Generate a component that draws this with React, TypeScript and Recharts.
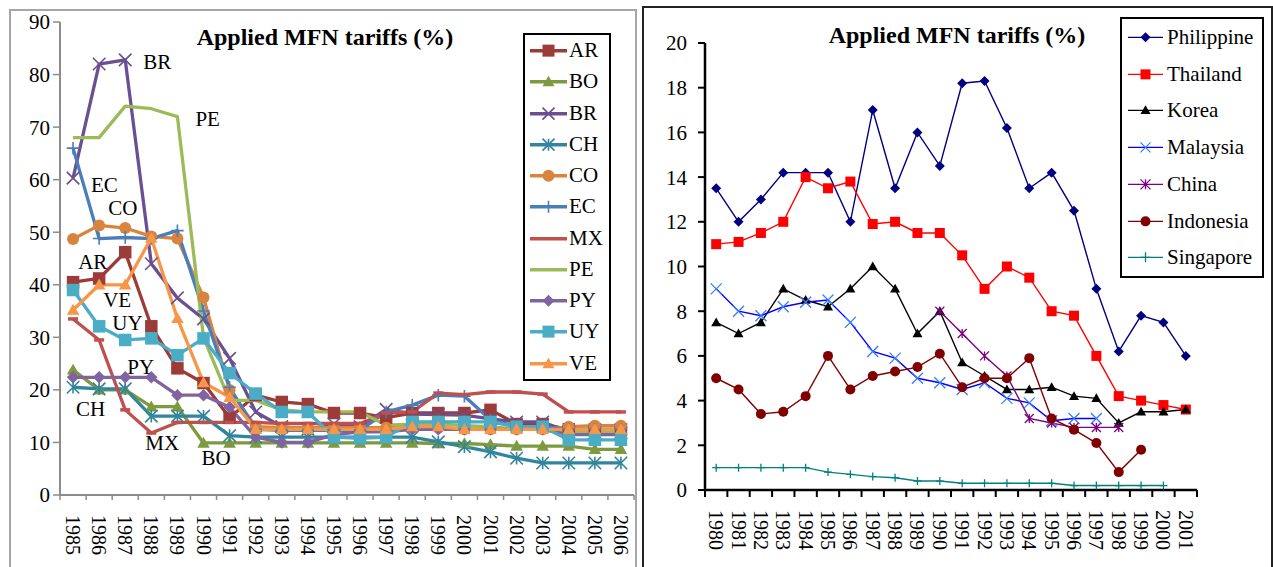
import React from 'react';
import { LineChart, Line, XAxis, YAxis, Legend } from 'recharts';

const FONT = '"Liberation Serif", "Times New Roman", Times, serif';

// ---------- Left panel data (1985-2006) ----------
const LEFT_YEARS = ['1985','1986','1987','1988','1989','1990','1991','1992','1993','1994','1995','1996','1997','1998','1999','2000','2001','2002','2003','2004','2005','2006'];
const LEFT_Y_TICKS = [0, 10, 20, 30, 40, 50, 60, 70, 80, 90];
const AR = [40.5, 41.2, 46.2, 32.1, 24.1, 21.3, 14.7, 19, 17.7, 17.3, 15.6, 15.6, 14.7, 15.6, 15.6, 15.6, 16.2, 13.5, 13.5, 12.5, 12.5, 12.5];
const BO = [23.8, 20, 20, 16.8, 16.8, 9.9, 9.9, 9.9, 9.9, 9.9, 9.9, 9.9, 9.9, 9.9, 9.8, 9.8, 9.6, 9.3, 9.3, 9.3, 8.7, 8.7];
const BR = [60.3, 82, 82.8, 44, 37.5, 33.5, 26, 15.8, 13, 12.5, 13.5, 13, 16.3, 15.4, 15.3, 15.2, 14.5, 13.9, 13.9, 12, 11.8, 11.8];
const CH = [20.5, 20.2, 20.2, 15, 15, 15, 11.3, 11, 11, 11, 11, 11, 11, 11, 10.1, 9.2, 8.2, 7, 6.1, 6.1, 6.1, 6.1];
const CO = [48.7, 51.3, 50.8, 49.2, 48.8, 37.6, 20, 13, 12.8, 12.8, 12.8, 12.8, 12.8, 12.8, 12.8, 12.5, 12.5, 12.5, 12.5, 13, 13.2, 13.2];
const EC = [66, 48.8, 49, 48.8, 50.3, 35, 20.5, 12.5, 12.3, 12.3, 12.3, 12.3, 15.8, 17.1, 19, 18.8, 14.3, 13, 13, 12.5, 12.5, 12.5];
const MX = [33.5, 29.5, 16.2, 11.8, 13.8, 13.8, 13.8, 13.8, 13.6, 13.6, 13.6, 13.6, 15.6, 15.8, 19.4, 19.1, 19.6, 19.6, 19.2, 15.8, 15.8, 15.8];
const PE = [68, 68, 74, 73.5, 72, 30, 18, 18, 16.2, 15.8, 15.8, 15.8, 13.3, 13.5, 13.5, 13.2, 13, 12.5, 12.5, 12, 12, 12];
const PY = [22.4, 22.4, 22.4, 22.4, 19, 19, 16.7, 11, 10, 10, 11.5, 12, 12, 12.5, 12.5, 12.5, 12.5, 12.5, 12.5, 11.5, 11.5, 11.5];
const UY = [39, 32.1, 29.5, 29.8, 26.6, 29.8, 23.2, 19.3, 15.8, 15.8, 11, 10.8, 11, 13.9, 13.9, 13.9, 13.9, 13, 13, 10.5, 10.5, 10.5];
const VE = [35.2, 40, 40, 48.9, 33.6, 21.4, 18.6, 12.5, 12.5, 12.5, 12.5, 12.5, 12.5, 13, 13, 12.5, 12.5, 12.5, 12.5, 12.5, 12.5, 12.5];

// ---------- Right panel data (1980-2001) ----------
const RIGHT_YEARS = ['1980','1981','1982','1983','1984','1985','1986','1987','1988','1989','1990','1991','1992','1993','1994','1995','1996','1997','1998','1999','2000','2001'];
const RIGHT_Y_TICKS = [0, 2, 4, 6, 8, 10, 12, 14, 16, 18, 20];
const PHILIPPINE = [13.5, 12, 13, 14.2, 14.2, 14.2, 12, 17, 13.5, 16, 14.5, 18.2, 18.3, 16.2, 13.5, 14.2, 12.5, 9, 6.2, 7.8, 7.5, 6];
const THAILAND = [11, 11.1, 11.5, 12, 14, 13.5, 13.8, 11.9, 12, 11.5, 11.5, 10.5, 9, 10, 9.5, 8, 7.8, 6, 4.2, 4, 3.8, 3.6];
const KOREA = [7.5, 7, 7.5, 9, 8.5, 8.2, 9, 10, 9, 7, 8, 5.7, 5.1, 4.5, 4.5, 4.6, 4.2, 4.1, 3, 3.5, 3.5, 3.6];
const MALAYSIA = [9, 8, 7.8, 8.2, 8.4, 8.5, 7.5, 6.2, 5.9, 5, 4.8, 4.5, 4.8, 4.1, 3.9, 3.1, 3.2, 3.2, null, null, null, null];
const CHINA = [null, null, null, null, null, null, null, null, null, null, 8, 7, 6, 5.1, 3.2, 3, 2.8, 2.8, 2.8, null, null, null];
const INDONESIA = [5, 4.5, 3.4, 3.5, 4.2, 6, 4.5, 5.1, 5.3, 5.5, 6.1, 4.6, 5, 5, 5.9, 3.2, 2.7, 2.1, 0.8, 1.8, null, null];
const SINGAPORE = [1, 1, 1, 1, 1, 0.8, 0.7, 0.6, 0.55, 0.4, 0.4, 0.3, 0.3, 0.3, 0.3, 0.3, 0.2, 0.2, 0.2, 0.2, 0.2, null];

type Shape = 'square' | 'triangle' | 'x' | 'asterisk' | 'circle' | 'plus' | 'dash' | 'none' | 'diamond';
interface SeriesDef { key: string; values: (number | null)[]; color: string; markerColor?: string; shape: Shape; }

const LEFT_SERIES: SeriesDef[] = [
  { key: 'AR', values: AR, color: '#9C3C39', shape: 'square' },
  { key: 'BO', values: BO, color: '#7E9A3E', shape: 'triangle' },
  { key: 'BR', values: BR, color: '#6A5090', shape: 'x' },
  { key: 'CH', values: CH, color: '#31859C', shape: 'asterisk' },
  { key: 'CO', values: CO, color: '#D9843E', shape: 'circle' },
  { key: 'EC', values: EC, color: '#4A7EBB', shape: 'plus' },
  { key: 'MX', values: MX, color: '#C0504D', shape: 'dash' },
  { key: 'PE', values: PE, color: '#9BBB59', shape: 'none' },
  { key: 'PY', values: PY, color: '#8064A2', shape: 'diamond' },
  { key: 'UY', values: UY, color: '#4BACC6', shape: 'square' },
  { key: 'VE', values: VE, color: '#F79646', shape: 'triangle' },
];

const RIGHT_SERIES: SeriesDef[] = [
  { key: 'Philippine', values: PHILIPPINE, color: '#000080', shape: 'diamond' },
  { key: 'Thailand', values: THAILAND, color: '#FF0000', shape: 'square' },
  { key: 'Korea', values: KOREA, color: '#000000', shape: 'triangle' },
  { key: 'Malaysia', values: MALAYSIA, color: '#0000FF', markerColor: '#3A7BFF', shape: 'x' },
  { key: 'China', values: CHINA, color: '#800080', shape: 'asterisk' },
  { key: 'Indonesia', values: INDONESIA, color: '#800000', shape: 'circle' },
  { key: 'Singapore', values: SINGAPORE, color: '#008080', shape: 'plus' },
];

// series-name labels in the left panel: attached to a point index, offset in px
const LEFT_NAME_LABELS: Record<string, { index: number; dx: number; dy: number }> = {
  BR: { index: 2, dx: 18, dy: 2 },
  PE: { index: 4, dx: 18, dy: 2 },
  EC: { index: 0, dx: 18, dy: 37 },
  CO: { index: 1, dx: 9, dy: -17 },
  AR: { index: 1, dx: -21, dy: -16 },
  VE: { index: 1, dx: 4, dy: 15 },
  UY: { index: 2, dx: -13, dy: -17 },
  PY: { index: 3, dx: -24, dy: -10 },
  CH: { index: 0, dx: 3, dy: 22 },
  MX: { index: 3, dx: -6, dy: 10 },
  BO: { index: 5, dx: -2, dy: 15 },
};

const buildRows = (years: string[], series: SeriesDef[]) =>
  years.map((year, i) => {
    const row: Record<string, any> = { year };
    series.forEach((s) => { row[s.key] = s.values[i]; });
    return row;
  });

const leftData = buildRows(LEFT_YEARS, LEFT_SERIES);
const rightData = buildRows(RIGHT_YEARS, RIGHT_SERIES);

function Marker({ shape, cx, cy, size, color, sw }: { shape: Shape; cx: number; cy: number; size: number; color: string; sw: number }) {
  const h = size / 2;
  switch (shape) {
    case 'square':
      return <rect x={cx - h} y={cy - h} width={size} height={size} fill={color} />;
    case 'circle':
      return <circle cx={cx} cy={cy} r={h} fill={color} />;
    case 'triangle':
      return <polygon points={`${cx},${cy - h} ${cx + h},${cy + h * 0.75} ${cx - h},${cy + h * 0.75}`} fill={color} />;
    case 'diamond':
      return <polygon points={`${cx},${cy - h} ${cx + h},${cy} ${cx},${cy + h} ${cx - h},${cy}`} fill={color} />;
    case 'x':
      return <path d={`M${cx - h},${cy - h}L${cx + h},${cy + h}M${cx - h},${cy + h}L${cx + h},${cy - h}`} stroke={color} strokeWidth={sw} fill="none" />;
    case 'asterisk':
      return <path d={`M${cx - h},${cy - h}L${cx + h},${cy + h}M${cx - h},${cy + h}L${cx + h},${cy - h}M${cx},${cy - h}L${cx},${cy + h}`} stroke={color} strokeWidth={sw} fill="none" />;
    case 'plus':
      return <path d={`M${cx - h},${cy}L${cx + h},${cy}M${cx},${cy - h}L${cx},${cy + h}`} stroke={color} strokeWidth={sw} fill="none" />;
    case 'dash':
      return <path d={`M${cx - h},${cy}L${cx + h},${cy}`} stroke={color} strokeWidth={sw} fill="none" />;
    default:
      return null;
  }
}

function makeDot(s: SeriesDef, size: number, sw: number, label?: { index: number; dx: number; dy: number }) {
  return (props: any) => {
    const { cx, cy, index, value } = props;
    const k = `dot-${s.key}-${index}`;
    if (cx == null || cy == null || value == null || Number.isNaN(cy)) return <g key={k} />;
    return (
      <g key={k}>
        <Marker shape={s.shape} cx={cx} cy={cy} size={size} color={s.markerColor || s.color} sw={sw} />
        {label && label.index === index && (
          <text x={cx + label.dx} y={cy + label.dy} fontSize={21} fontFamily={FONT} fill="#000" dominantBaseline="central">
            {s.key}
          </text>
        )}
      </g>
    );
  };
}

function makeXTick(step: number, count: number, color: string, tickLen: number, tickWidth: number, labelGap: number) {
  return (props: any) => {
    const { x, y, payload, index } = props;
    const axisY = y - tickLen;
    return (
      <g>
        <line x1={x - step / 2} x2={x - step / 2} y1={axisY} y2={y} stroke={color} strokeWidth={tickWidth} />
        {index === count - 1 && <line x1={x + step / 2} x2={x + step / 2} y1={axisY} y2={y} stroke={color} strokeWidth={tickWidth} />}
        <text transform={`translate(${x},${y + labelGap}) rotate(90)`} textAnchor="start" dominantBaseline="central" fontSize={20} fontFamily={FONT} fill="#000">
          {payload.value}
        </text>
      </g>
    );
  };
}

function LegendBox({ series, width, height, rowH, iconLeft, iconW, textLeft, fontSize, lineW, markerSize, markerSw }: any) {
  return (
    <div style={{ width, height, border: '2px solid #000', boxSizing: 'border-box', background: '#fff', fontFamily: FONT }}>
      {series.map((s: SeriesDef) => (
        <div key={s.key} style={{ position: 'relative', height: rowH }}>
          <svg width={iconW} height={rowH} style={{ position: 'absolute', left: iconLeft, top: 0 }}>
            <line x1={0} x2={iconW} y1={rowH / 2} y2={rowH / 2} stroke={s.color} strokeWidth={lineW} />
            <Marker shape={s.shape} cx={iconW / 2} cy={rowH / 2} size={markerSize} color={s.markerColor || s.color} sw={markerSw} />
          </svg>
          <span style={{ position: 'absolute', left: textLeft, top: 0, lineHeight: `${rowH}px`, fontSize, color: '#000', whiteSpace: 'nowrap' }}>
            {s.key}
          </span>
        </div>
      ))}
    </div>
  );
}

const LEFT_W = 626;
const LEFT_H = 557;
const LEFT_PLOT_W = 574;
const LEFT_STEP = LEFT_PLOT_W / LEFT_YEARS.length;

function LeftChart() {
  const gray = '#8C8C8C';
  return (
    <LineChart width={LEFT_W} height={LEFT_H} data={leftData} margin={{ top: 12, right: 2, left: 0, bottom: 0 }}>
      <XAxis
        dataKey="year"
        scale="point"
        padding={{ left: LEFT_STEP / 2, right: LEFT_STEP / 2 }}
        interval={0}
        tickSize={5}
        tickMargin={0}
        tickLine={false}
        axisLine={{ stroke: gray, strokeWidth: 2 }}
        tick={makeXTick(LEFT_STEP, LEFT_YEARS.length, gray, 5, 1.5, 15)}
        height={72}
      />
      <YAxis
        domain={[0, 90]}
        ticks={LEFT_Y_TICKS}
        interval={0}
        width={50}
        tickSize={7}
        tickMargin={3}
        axisLine={{ stroke: gray, strokeWidth: 2 }}
        tickLine={{ stroke: gray, strokeWidth: 1.5 }}
        tick={{ fill: '#000', fontSize: 21, fontFamily: FONT }}
      />
      {LEFT_SERIES.map((s) => (
        <Line
          key={s.key}
          type="linear"
          dataKey={s.key}
          stroke={s.color}
          strokeWidth={3.3}
          dot={makeDot(s, s.shape === 'circle' ? 12 : s.shape === 'dash' ? 10 : 12.5, s.shape === 'dash' ? 3.5 : 1.6, LEFT_NAME_LABELS[s.key])}
          activeDot={false}
          isAnimationActive={false}
          strokeLinejoin="round"
        />
      ))}
      <Legend
        layout="vertical"
        align="center"
        verticalAlign="middle"
        wrapperStyle={{ left: 513, top: 23, width: 88, height: 348 }}
        content={() => (
          <LegendBox series={LEFT_SERIES} width={88} height={348} rowH={344 / 11} iconLeft={5} iconW={37} textLeft={44} fontSize={21} lineW={3.5} markerSize={12} markerSw={1.6} />
        )}
      />
    </LineChart>
  );
}

const RIGHT_W = 629;
const RIGHT_H = 560;
const RIGHT_PLOT_W = 492;
const RIGHT_STEP = RIGHT_PLOT_W / RIGHT_YEARS.length;

function RightChart() {
  return (
    <LineChart width={RIGHT_W} height={RIGHT_H} data={rightData} margin={{ top: 36, right: 75, left: 0, bottom: 0 }}>
      <XAxis
        dataKey="year"
        scale="point"
        padding={{ left: RIGHT_STEP / 2, right: RIGHT_STEP / 2 }}
        interval={0}
        tickSize={7}
        tickMargin={0}
        tickLine={false}
        axisLine={{ stroke: '#000', strokeWidth: 2.5 }}
        tick={makeXTick(RIGHT_STEP, RIGHT_YEARS.length, '#000', 7, 2, 13)}
        height={77}
      />
      <YAxis
        domain={[0, 20]}
        ticks={RIGHT_Y_TICKS}
        interval={0}
        width={62}
        tickSize={7}
        tickMargin={11}
        axisLine={{ stroke: '#000', strokeWidth: 2.5 }}
        tickLine={{ stroke: '#000', strokeWidth: 2 }}
        tick={{ fill: '#000', fontSize: 21, fontFamily: FONT }}
      />
      {RIGHT_SERIES.map((s) => (
        <Line
          key={s.key}
          type="linear"
          dataKey={s.key}
          stroke={s.color}
          strokeWidth={1.4}
          dot={makeDot(s, s.shape === 'plus' ? 8 : s.shape === 'asterisk' ? 9 : s.shape === 'x' ? 11 : 10, 1.3)}
          activeDot={false}
          isAnimationActive={false}
        />
      ))}
      <Legend
        layout="vertical"
        align="center"
        verticalAlign="middle"
        wrapperStyle={{ left: 477, top: 10, width: 144, height: 261 }}
        content={() => (
          <LegendBox series={RIGHT_SERIES} width={144} height={261} rowH={257 / 7} iconLeft={6} iconW={35} textLeft={45} fontSize={21} lineW={1.4} markerSize={10} markerSw={1.3} />
        )}
      />
    </LineChart>
  );
}

const titleStyle: React.CSSProperties = {
  position: 'absolute',
  width: 400,
  textAlign: 'center',
  fontFamily: FONT,
  fontWeight: 'bold',
  fontSize: 24,
  lineHeight: '24px',
  color: '#000',
  whiteSpace: 'nowrap',
};

export default function App() {
  return (
    <div style={{ position: 'absolute', left: 0, top: 0, width: 1273, height: 567, overflow: 'hidden', background: '#fff' }}>
      <div style={{ position: 'absolute', left: 9, top: 9, width: 628, height: 620, border: '2px solid #A6A6A6', boxSizing: 'border-box' }} />
      <div style={{ position: 'absolute', left: 642, top: 6, width: 631, height: 620, border: '2px solid #222', boxSizing: 'border-box' }} />
      <div style={{ position: 'absolute', left: 10, top: 10 }}>
        <LeftChart />
      </div>
      <div style={{ position: 'absolute', left: 643, top: 7 }}>
        <RightChart />
      </div>
      <div style={{ ...titleStyle, left: 125, top: 25 }}>Applied MFN tariffs (%)</div>
      <div style={{ ...titleStyle, left: 757, top: 23 }}>Applied MFN tariffs (%)</div>
    </div>
  );
}
